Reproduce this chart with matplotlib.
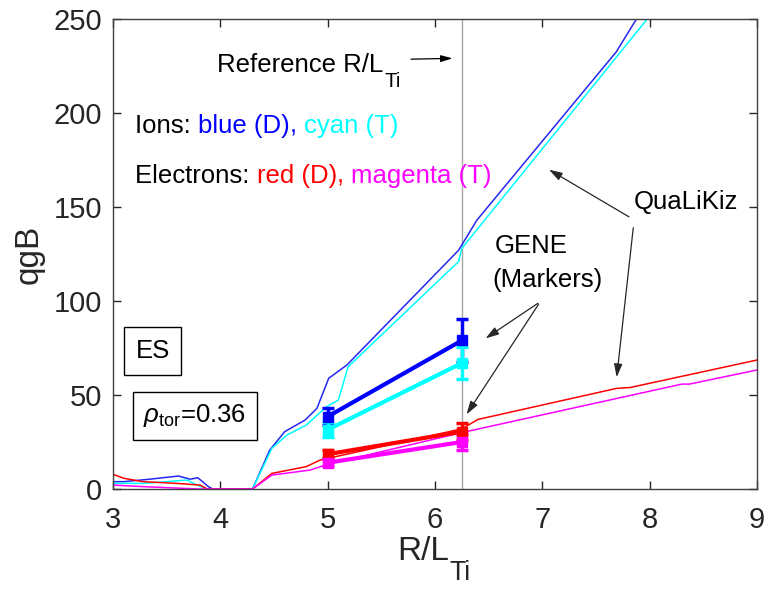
import matplotlib
matplotlib.use("Agg")
import matplotlib.pyplot as plt

plt.rcParams['font.family'] = ['Liberation Sans', 'DejaVu Sans']
plt.rcParams['mathtext.fontset'] = 'custom'
plt.rcParams['mathtext.rm'] = 'Liberation Sans'
plt.rcParams['mathtext.it'] = 'Liberation Sans:italic'

# QuaLiKiz fluxes (thin lines)
qlk_iD_x = [3.0, 3.1, 3.34, 3.61, 3.72, 3.79, 3.89, 3.93, 4.30, 4.46, 4.60, 4.79, 4.90, 5.01, 5.18, 6.22, 6.39, 7.69, 7.92]
qlk_iD_y = [3.9, 3.9, 5.2, 6.9, 5.2, 6.0, 1.2, 0.0, 0.0, 20.7, 30.5, 36.7, 42.9, 58.9, 66.0, 127.0, 143.0, 232.6, 254.0]
qlk_iT_x = [3.0, 3.28, 3.50, 3.69, 3.75, 3.87, 4.30, 4.48, 4.62, 4.80, 4.99, 5.10, 5.19, 6.22, 6.25, 8.02]
qlk_iT_y = [3.0, 3.0, 3.9, 4.8, 3.0, 0.0, 0.0, 21.6, 28.7, 34.0, 43.8, 47.3, 65.0, 121.0, 128.0, 253.0]
qlk_eD_x = [3.0, 3.1, 3.28, 3.59, 3.81, 3.88, 4.30, 4.48, 4.80, 4.93, 6.25, 6.40, 7.69, 7.82, 9.0]
qlk_eD_y = [7.8, 5.7, 3.9, 3.0, 2.1, 0.0, 0.0, 8.3, 11.9, 15.4, 32.0, 37.0, 53.5, 54.0, 68.6]
qlk_eT_x = [3.0, 3.3, 3.8, 4.30, 4.48, 4.84, 4.98, 6.25, 8.30, 8.37, 9.0]
qlk_eT_y = [2.1, 1.2, 0.0, 0.0, 7.4, 10.1, 12.8, 30.0, 55.8, 55.8, 63.3]

# GENE fluxes (markers with error bars)
gene_x = [5.0, 6.25]
gene_iD = [38.5, 79.0]
gene_iD_err = [4.5, 11.3]
gene_iT = [31.5, 67.0]
gene_iT_err = [4.0, 8.5]
gene_eD = [18.5, 30.5]
gene_eD_err = [2.0, 4.5]
gene_eT = [14.0, 25.0]
gene_eT_err = [2.0, 4.5]

ref_rlti = 6.25

fig = plt.figure(figsize=(7.66, 5.93), dpi=100)
ax = fig.add_axes([113/766, 1-489/593, (757-113)/766, (489-19)/593])

ax.axvline(ref_rlti, color='0.65', lw=1.0, zorder=1)

ax.plot(qlk_iD_x, qlk_iD_y, color=(0.15, 0.15, 0.95), lw=1.1, zorder=2)
ax.plot(qlk_iT_x, qlk_iT_y, color='cyan', lw=1.1, zorder=2)
ax.plot(qlk_eD_x, qlk_eD_y, color='red', lw=1.1, zorder=2)
ax.plot(qlk_eT_x, qlk_eT_y, color='magenta', lw=1.1, zorder=2)

for y, e, c in [(gene_iD, gene_iD_err, 'blue'), (gene_iT, gene_iT_err, 'cyan'),
                (gene_eD, gene_eD_err, 'red'), (gene_eT, gene_eT_err, 'magenta')]:
    ax.errorbar(gene_x, y, yerr=e, color=c, lw=3.0, marker='s', ms=7.5,
                elinewidth=2.5, capsize=4, capthick=2.5, zorder=3)

ax.set_xlim(3, 9)
ax.set_ylim(0, 250)
ax.set_xticks([3, 4, 5, 6, 7, 8, 9])
ax.set_yticks([0, 50, 100, 150, 200, 250])
ax.tick_params(direction='in', length=6, width=1.0, colors='#262626',
               labelsize=21, top=True, right=True, pad=8)
ax.tick_params(axis='x', pad=12)
for s in ax.spines.values():
    s.set_color('#404040')
    s.set_linewidth(1.0)

ax.set_ylabel('qgB', fontsize=24, color='#262626', labelpad=6)


def with_subscript(x, y, main, sub, size, coords, **kw):
    """Main text followed by a large, lowered subscript."""
    t = ax.text(x, y, main, fontsize=size, transform=coords, ha='left',
                va='baseline', **kw)
    s = ax.annotate(sub, xy=(1, 0), xycoords=t, xytext=(0.5, -size * 0.40),
                    textcoords='offset points', fontsize=size * 0.8,
                    va='baseline', ha='left', **kw)
    return t, s


# x-axis label R/L_Ti under the axes
with_subscript(0.441, -0.150, 'R/L', 'Ti', 24, ax.transAxes, color='#262626')

fs = 18.5
with_subscript(3.97, 221.8, 'Reference R/L', 'Ti', fs, ax.transData)
ax.annotate('', xy=(6.19, 229.1), xytext=(5.75, 228.6),
            arrowprops=dict(arrowstyle='-|>,head_length=0.7,head_width=0.2', color='k', lw=0.9))


# Colour legend written as text
def colored_line(x, y, parts):
    prev = ax.text(x, y, parts[0][0], color=parts[0][1], fontsize=fs, va='baseline')
    for s, c in parts[1:]:
        prev = ax.annotate(s, xy=(1, 0), xycoords=prev, color=c, fontsize=fs,
                           va='bottom', ha='left')
    return prev


colored_line(3.205, 189.4, [('Ions: ', 'k'), ('blue (D)', 'blue'), (', ', 'blue'),
                            ('cyan (T)', 'cyan')])
colored_line(3.205, 163.0, [('Electrons: ', 'k'), ('red (D)', 'red'), (', ', 'red'),
                            ('magenta (T)', 'magenta')])

ax.text(3.37, 73.4, 'ES', fontsize=fs, ha='center', va='center',
        bbox=dict(boxstyle='square,pad=0.45', fc='white', ec='k', lw=1.0))
ax.text(3.764, 38.9, r'$\rho_{\rm tor}$=0.36', fontsize=fs, ha='center', va='center',
        bbox=dict(boxstyle='square,pad=0.4', fc='white', ec='k', lw=1.0))

ax.text(6.56, 125.4, 'GENE', fontsize=fs, ha='left', va='baseline')
ax.text(6.53, 107.6, '(Markers)', fontsize=fs, ha='left', va='baseline')
arrow_kw = dict(arrowstyle='-|>,head_length=0.8,head_width=0.25', color='0.15', lw=0.9)
ax.annotate('', xy=(6.45, 79.3), xytext=(6.98, 99.6), arrowprops=arrow_kw)
ax.annotate('', xy=(6.28, 38.5), xytext=(6.98, 99.6), arrowprops=arrow_kw)

ax.text(7.85, 149.0, 'QuaLiKiz', fontsize=fs, ha='left', va='baseline')
ax.annotate('', xy=(7.04, 170.6), xytext=(7.83, 144.0), arrowprops=arrow_kw)
ax.annotate('', xy=(7.69, 58.0), xytext=(7.85, 140.4), arrowprops=arrow_kw)

fig.savefig('out.png', dpi=100)
